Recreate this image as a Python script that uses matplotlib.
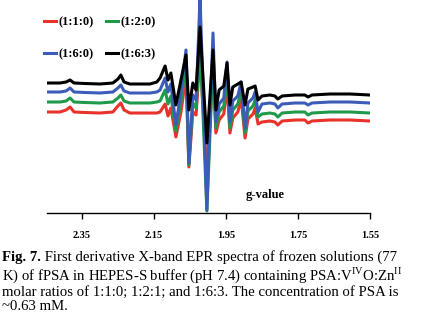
import numpy as np
import matplotlib
matplotlib.use("Agg")
import matplotlib.pyplot as plt

plt.rcParams['font.family'] = ['Liberation Serif', 'DejaVu Serif']
plt.rcParams['mathtext.fontset'] = 'custom'
plt.rcParams['mathtext.rm'] = 'Liberation Serif'
plt.rcParams['mathtext.bf'] = 'Liberation Serif:bold'

# g-values shared by all four spectra
g_values = [2.447, 2.411, 2.394, 2.383, 2.372, 2.342, 2.300, 2.264, 2.250, 2.242,
            2.233, 2.217, 2.161, 2.142, 2.133, 2.119, 2.111, 2.103, 2.089, 2.075,
            2.061, 2.053, 2.042, 2.033, 2.022, 2.003, 1.986, 1.978, 1.969, 1.956,
            1.947, 1.939, 1.931, 1.917, 1.908, 1.897, 1.889, 1.875, 1.869, 1.861,
            1.850, 1.828, 1.814, 1.806, 1.794, 1.758, 1.731, 1.722, 1.711, 1.661,
            1.606, 1.550]

# stacked signal (arbitrary units, offset already included)
sig_110 = [101, 101, 103, 106, 101, 100.5, 100, 101, 107, 110, 103, 100, 100, 100, 101,
           109, 97, 105, 76, 101, 137, 46, 101, 98, 158, 38, 145, 80, 93, 99, 128, 80,
           95, 101, 115, 75, 94, 99, 105, 89, 91, 92, 91, 88, 92, 93, 93, 90, 92, 93, 93, 92]
sig_120 = [111, 111, 112, 115, 111, 110.5, 110, 111, 115, 118, 112, 110, 110, 111, 112,
           123, 109, 117, 82, 111, 148, 48, 110, 105, 173, 2, 153, 85, 101, 107, 138, 85,
           103, 109, 123, 80, 102, 107, 113, 96, 99, 100, 99, 96, 100, 101, 101, 98, 100,
           101, 101, 100]
sig_160 = [121, 121, 122, 125, 121, 120.5, 120, 121, 125, 128, 122, 120, 120, 121, 123,
           135, 121, 129, 88, 121, 163, 50, 118, 113, 216, 3, 180, 91, 109, 115, 151, 91,
           112, 117, 131, 85, 110, 115, 121, 101, 109, 110, 109, 105, 109, 110, 110, 108,
           110, 111, 111, 110]
sig_163 = [130, 130, 131, 133, 130, 129.5, 129, 130, 134, 138, 131, 129, 129, 131, 135,
           147, 133, 140, 108, 133, 158, 103, 130, 123, 186, 70, 163, 103, 123, 127, 150,
           108, 126, 129, 131, 108, 124, 126, 127, 113, 117, 118, 117, 114, 117, 118, 118,
           116, 118, 119, 119, 118]

labels = ['(1:1:0)', '(1:6:0)', '(1:2:0)', '(1:6:3)']
colors = ['#e8322b', '#3b5cb8', '#1f9a4b', '#000000']
series = [sig_110, sig_160, sig_120, sig_163]
ticks = [2.35, 2.15, 1.95, 1.75, 1.55]

fig = plt.figure(figsize=(4.21, 3.15), dpi=100)
ax = fig.add_axes([47 / 421, 102 / 315, 323 / 421, 213 / 315])

order = [0, 2, 1, 3]
for i in order:
    ax.plot(g_values, series[i], color=colors[i], lw=2.2, label=labels[i],
            solid_joinstyle='round')

ax.set_xlim(2.447, 1.55)
ax.set_ylim(0, 213)
ax.set_yticks([])
for s in ['left', 'right', 'top']:
    ax.spines[s].set_visible(False)
ax.spines['bottom'].set_linewidth(1.0)
ax.set_xticks(ticks)
ax.set_xticklabels(['%.2f' % t for t in ticks], fontsize=7.5, fontweight='bold')
ax.tick_params(axis='x', direction='out', length=4, width=1, pad=9)
ax.text(0.675, 0.085, 'g-value', transform=ax.transAxes, ha='center', va='center',
        fontsize=9, fontweight='bold')

handles, labs = ax.get_legend_handles_labels()
hmap = dict(zip(labs, handles))
leg = ax.legend([hmap[l] for l in labels], labels, ncol=2, frameon=False,
                loc='upper left', bbox_to_anchor=(-0.045, 0.975),
                prop={'weight': 'bold', 'size': 9}, handlelength=1.0,
                handletextpad=0.15, columnspacing=1.0, labelspacing=1.6)

# caption
fs = 10.6
t1 = fig.text(2 / 421, 1 - 258 / 315, 'Fig. 7.', fontsize=fs, fontweight='bold',
              va='center')
ax.annotate(' First derivative X-band EPR spectra of frozen solutions (77',
            xy=(1, 0), xycoords=t1, va='bottom', fontsize=fs, annotation_clip=False)
cap_lines = [r'K) of fPSA in HEPES-S buffer (pH 7.4) containing PSA:V$^{\rm IV}$O:Zn$^{\rm II}$',
             'molar ratios of 1:1:0; 1:2:1; and 1:6:3. The concentration of PSA is',
             '~0.63 mM.']
cap_y = [275, 292, 307]
for line, y in zip(cap_lines, cap_y):
    fig.text(2 / 421, 1 - y / 315, line, fontsize=fs, va='center')

fig.savefig('out.png', dpi=100)
